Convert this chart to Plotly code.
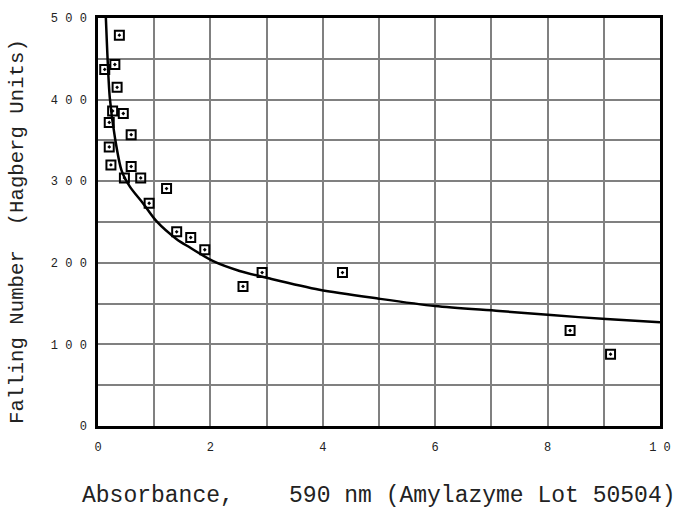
import plotly.graph_objects as go

# Measured data points (absorbance, falling number)
abs_x = [0.12, 0.20, 0.20, 0.23, 0.26, 0.30, 0.34, 0.38, 0.45, 0.47, 0.59, 0.59,
         0.76, 0.91, 1.22, 1.40, 1.65, 1.90, 2.58, 2.92, 4.35, 8.40, 9.12]
fn_y = [437, 372, 342, 320, 386, 443, 415, 479, 383, 304, 357, 318,
        304, 273, 291, 238, 231, 216, 171, 188, 188, 117, 88]

# Fitted curve
curve_x = [0.12, 0.14, 0.21, 0.30, 0.42, 0.57, 0.80, 1.04, 1.40, 1.63, 2.05, 2.52,
           3.04, 3.94, 5.0, 6.0, 7.14, 8.06, 9.04, 10.0]
curve_y = [540, 500, 402, 354, 313, 293, 273, 251, 229, 219, 202, 190,
           181, 167, 156, 147, 141, 136, 131, 127]

x_tickvals = list(range(0, 11))
x_ticktext = ["0", "", "2", "", "4", "", "6", "", "8", "", "1 0"]
y_tickvals = list(range(0, 501, 50))
y_ticktext = ["0", "", "1 0 0", "", "2 0 0", "", "3 0 0", "", "4 0 0", "", "5 0 0"]

x_title = "Absorbance,    590 nm (Amylazyme Lot 50504)"
y_title = "Falling Number  (Hagberg Units)"

FONT = '"Courier New", "Nimbus Mono PS", FreeMono, Courier, "Liberation Mono", monospace'

fig = go.Figure()
fig.add_trace(go.Scatter(
    x=curve_x, y=curve_y, mode="lines",
    line=dict(color="black", width=2.5, shape="spline", smoothing=0.8),
    showlegend=False, hoverinfo="skip"))
fig.add_trace(go.Scatter(
    x=abs_x, y=fn_y, mode="markers",
    marker=dict(symbol="square-open-dot", size=9, color="black",
                line=dict(color="black", width=2)),
    showlegend=False))

fig.update_layout(
    width=683, height=508,
    margin=dict(l=98, r=22, t=12, b=82),
    paper_bgcolor="white", plot_bgcolor="white",
    font=dict(family=FONT, color="#222", size=12),
    xaxis=dict(range=[0, 10], tickvals=x_tickvals, ticktext=x_ticktext,
               showgrid=True, gridcolor="#808080", gridwidth=2,
               showline=True, linecolor="black", linewidth=2.5, mirror=True,
               ticks="", zeroline=False, ticklabelstandoff=8,
               tickfont=dict(family=FONT, size=12, color="#222")),
    yaxis=dict(range=[0, 500], tickvals=y_tickvals, ticktext=y_ticktext,
               showgrid=True, gridcolor="#808080", gridwidth=2,
               showline=True, linecolor="black", linewidth=2.5, mirror=True,
               ticks="", zeroline=False, ticklabelstandoff=6,
               tickfont=dict(family=FONT, size=12, color="#222")),
    annotations=[
        dict(text=x_title, xref="paper", yref="paper", x=0.5, y=0,
             xanchor="center", yanchor="middle",
             yshift=-70, showarrow=False,
             font=dict(family=FONT, size=23, color="#222")),
        dict(text=y_title, xref="paper", yref="paper", x=0, y=0.5,
             xanchor="center", yanchor="middle",
             xshift=-81, yshift=-10, textangle=-90, showarrow=False,
             font=dict(family=FONT, size=20.7, color="#222")),
    ],
)

fig.write_html("out.html", config={"displayModeBar": False},
               post_script="document.body.style.margin='0';document.body.style.overflow='hidden';")
